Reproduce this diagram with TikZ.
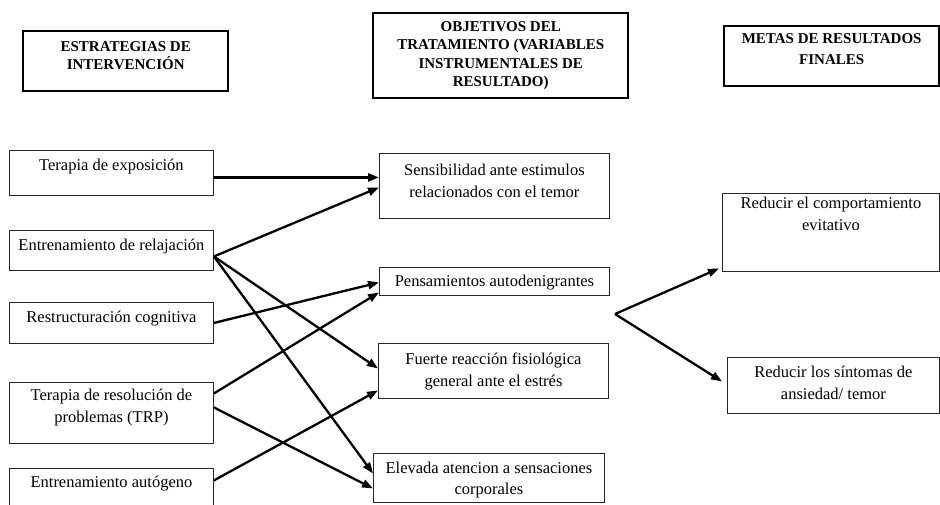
\documentclass[tikz,border=0pt]{standalone}
\usepackage{fontspec}
\setmainfont{Liberation Serif}
\usetikzlibrary{arrows.meta,calc}
\newcommand{\bxt}[4]{\parbox[c][#2pt][t]{#1pt}{\centering\vspace*{#3pt}#4\par}}
\begin{document}
\begin{tikzpicture}[x=1pt,y=-1pt,
  box/.style={draw=black!85,line width=0.9pt,inner sep=0pt,anchor=north west,
    font=\fontsize{16.5}{22}\selectfont},
  hbox/.style={draw=black,line width=2.4pt,inner sep=0pt,anchor=north west,
    font=\fontsize{15}{18.5}\selectfont\bfseries},
  arr/.style={line width=2.3pt,-{Triangle[length=11pt,width=8pt]}},
  ln/.style={line width=2.3pt}]
\useasboundingbox[fill=white] (0,0) rectangle (940,505);
% headers
\node[hbox] (h1) at (22,30) {\bxt{205}{60}{10}{ESTRATEGIAS DE\\INTERVENCIÓN}};
\node[hbox] (h2) at (372,12) {\bxt{255}{85}{8}{OBJETIVOS DEL\\TRATAMIENTO (VARIABLES\\INSTRUMENTALES DE\\RESULTADO)}};
\node[hbox,font=\fontsize{15}{21}\selectfont\bfseries] (h3) at (723,25) {\bxt{215}{60}{7}{METAS DE RESULTADOS\\FINALES}};
% left column
\node[box] (exp) at (9,150) {\bxt{204}{45}{9}{Terapia de exposición}};
\node[box] (relax) at (9,230) {\bxt{204}{40}{9}{Entrenamiento de relajación}};
\node[box] (restr) at (9,302) {\bxt{204}{41}{9}{Restructuración cognitiva}};
\node[box] (trp) at (9,382) {\bxt{204}{61}{7}{Terapia de resolución de\\problemas (TRP)}};
\node[box] (auto) at (9,468) {\bxt{204}{40}{8}{Entrenamiento autógeno}};
% middle column
\node[box] (sens) at (379,153) {\bxt{230}{65}{11}{Sensibilidad ante estimulos\\relacionados con el temor}};
\node[box] (pens) at (379,267) {\bxt{230}{28}{8}{Pensamientos autodenigrantes}};
\node[box] (fuer) at (378,343) {\bxt{230}{55}{9}{Fuerte reacción fisiológica\\general ante el estrés}};
\node[box,font=\fontsize{16.5}{20.5}\selectfont] (elev) at (373,453) {\bxt{231}{49}{9}{Elevada atencion a sensaciones\\corporales}};
% right column
\node[box] (r1) at (722,193) {\bxt{217}{78}{4}{Reducir el comportamiento\\evitativo}};
\node[box] (r2) at (727,357) {\bxt{212}{56}{9}{Reducir los síntomas de\\ansiedad/ temor}};
% connectors
\draw[arr] ([yshift=-4.5pt]exp.east) -- ([yshift=8.5pt]sens.west);
\draw[arr] ([yshift=-6pt]relax.east) -- ([yshift=-1.5pt]sens.west);
\draw[arr] ([yshift=-6pt]relax.east) -- ([yshift=2.5pt]fuer.west);
\draw[arr] ([yshift=-6pt]relax.east) -- ([yshift=4.5pt]elev.west);
\draw[arr] (restr.east) -- ([yshift=-1pt]pens.west);
\draw[arr] ([yshift=19.5pt]trp.east) -- ([yshift=-11pt]pens.west);
\draw[arr] ([yshift=5.5pt]trp.east) -- ([yshift=-10.5pt]elev.west);
\draw[arr] ([yshift=8pt]auto.east) -- ([yshift=-19.5pt]fuer.west);
\coordinate (j) at (615,314);
\draw[arr] (j) -- ([xshift=-3pt,yshift=-36pt]r1.west);
\draw[arr] (j) -- ([xshift=-5pt,yshift=4pt]r2.west);
\end{tikzpicture}
\end{document}
